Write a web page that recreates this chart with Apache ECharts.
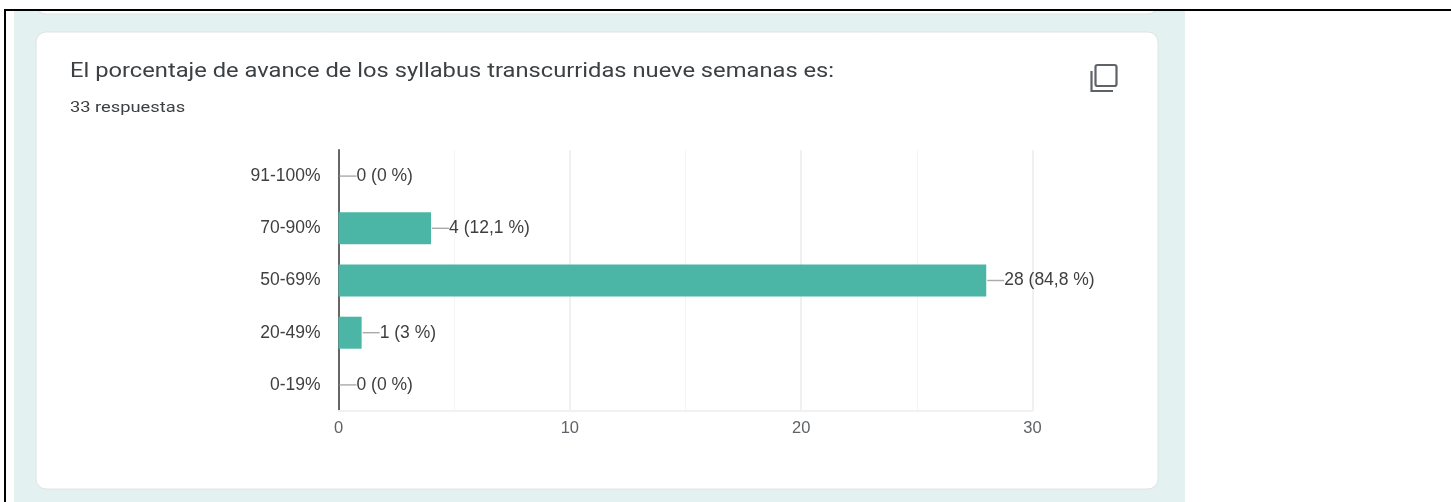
<!DOCTYPE html>
<html><head><meta charset="utf-8">
<style>html,body{margin:0;padding:0;background:#fff}#c{width:1451px;height:502px}</style>
<script src="https://cdn.jsdelivr.net/npm/echarts@6/dist/echarts.min.js"></script>
</head><body><div id="c"></div>
<script>
const categories = ['91-100%','70-90%','50-69%','20-49%','0-19%'];
const counts = [0,4,28,1,0];
const labels = ['0 (0 %)','4 (12,1 %)','28 (84,8 %)','1 (3 %)','0 (0 %)'];
const titleText = 'El porcentaje de avance de los syllabus transcurridas nueve semanas es:';
const subtitleText = '33 respuestas';

const chart = echarts.init(document.getElementById('c'), null, {renderer:'canvas'});
const leader = 18;
chart.setOption({
  animation:false,
  backgroundColor:'#fff',
  graphic:[
    {type:'rect',z:-10,silent:true,shape:{x:14,y:10,width:1171,height:492},style:{fill:'#e3f2f1'}},
    {type:'rect',z:-9,silent:true,shape:{x:36,y:-20,width:1122,height:34,r:10},style:{fill:'#fff',stroke:'#dfe3e4',lineWidth:1}},
    {type:'rect',z:-9,silent:true,shape:{x:36,y:32,width:1122,height:457,r:10},style:{fill:'#fff',stroke:'#dfe3e4',lineWidth:1}},
    {type:'rect',z:-8,silent:true,shape:{x:0,y:0,width:1451,height:9},style:{fill:'#fff'}},
    {type:'rect',z:-7,silent:true,shape:{x:4,y:9,width:1447,height:2},style:{fill:'#000'}},
    {type:'rect',z:-7,silent:true,shape:{x:4,y:9,width:2,height:493},style:{fill:'#000'}},
    {type:'rect',z:-8,silent:true,shape:{x:6,y:11,width:8,height:491},style:{fill:'#fff'}},
    {type:'text',z:5,silent:true,x:70,y:72,scaleX:1.186,style:{text:titleText,fontFamily:'Roboto',fontSize:20,fill:'#3c4043',verticalAlign:'middle',align:'left'}},
    {type:'text',z:5,silent:true,x:70,y:108.5,scaleX:1.18,style:{text:subtitleText,fontFamily:'Roboto',fontSize:15.5,fill:'#3c4043',verticalAlign:'middle',align:'left'}},
    {type:'rect',z:5,silent:true,shape:{x:1095.5,y:65,width:21,height:21,r:2},style:{fill:'none',stroke:'#5f6368',lineWidth:2.2}},
    {type:'polyline',z:5,silent:true,shape:{points:[[1091.5,71],[1091.5,91],[1113,91]]},style:{fill:'none',stroke:'#5f6368',lineWidth:2.2}}
  ],
  grid:{left:338.5,right:1451-1032.5,top:150,bottom:502-411,containLabel:false,show:false},
  xAxis:{type:'value',min:0,max:30,interval:10,
    axisLine:{show:true,lineStyle:{color:'#f1f1f1',width:2}},
    axisTick:{show:false},
    axisLabel:{fontFamily:'Liberation Sans',fontSize:16.5,color:'#5f6368',margin:9},
    splitLine:{show:true,lineStyle:{color:'#f0f0f0',width:2}},
    minorTick:{show:false,splitNumber:2},
    minorSplitLine:{show:true,lineStyle:{color:'#f5f5f5',width:1}}},
  yAxis:{type:'category',data:categories,inverse:true,
    axisLine:{show:true,lineStyle:{color:'#666',width:2}},
    axisTick:{show:false},
    axisLabel:{fontFamily:'Liberation Sans',fontSize:17.5,color:'#3f3f3f',margin:18,padding:[3,0,0,0]}},
  series:[
    {type:'bar',data:counts,barWidth:32,itemStyle:{color:'#4bb6a6'},z:3,
     label:{show:false}},
    {type:'custom',z:4,data:counts.map((v,i)=>[v,i]),encode:{x:0,y:1},clip:false,
     renderItem:(p,api)=>{
       const i=p.dataIndex;
       const pt=api.coord([api.value(0),i]);
       return {type:'group',children:[
         {type:'line',shape:{x1:pt[0]+1,y1:pt[1],x2:pt[0]+leader,y2:pt[1]},style:{stroke:'#aaaaaa',lineWidth:1.4}},
         {type:'text',style:{x:pt[0]+leader,y:pt[1],text:labels[i],fontFamily:'Liberation Sans',fontSize:17.5,fill:'#3f3f3f',verticalAlign:'middle',align:'left'}}
       ]};
     }}
  ]
});
</script></body></html>
